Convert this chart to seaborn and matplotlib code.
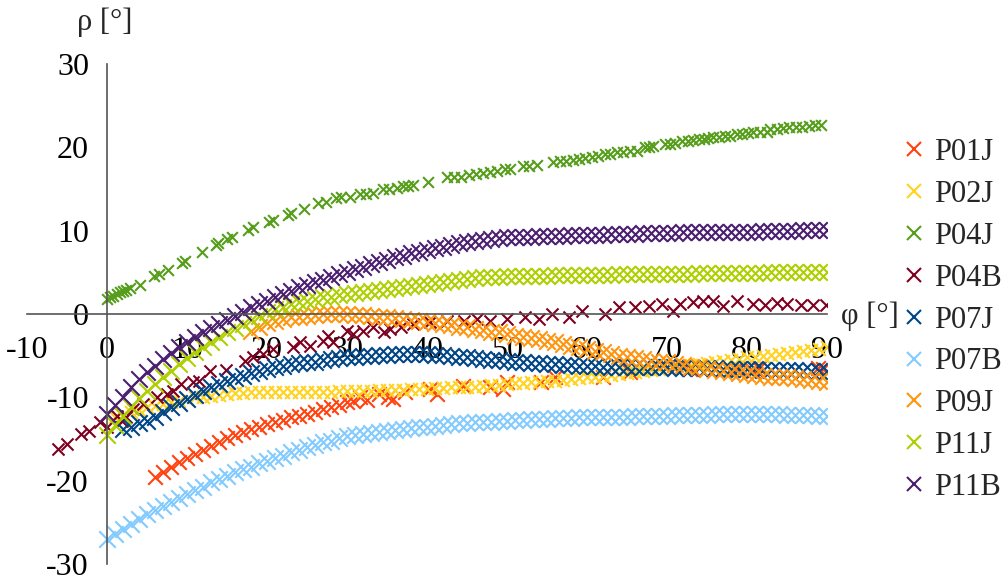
import matplotlib
matplotlib.use("Agg")
import matplotlib.pyplot as plt
from matplotlib.lines import Line2D
import seaborn as sns
import pandas as pd

# ---------------- data ----------------
series_names = ["P01J", "P02J", "P04J", "P04B", "P07J", "P07B", "P09J", "P11J", "P11B"]
series_colors = ["#FF420E", "#FFD320", "#579D1C", "#7E0021", "#004586",
                 "#83CAFF", "#FF950E", "#AECF00", "#4B1F6F"]

# dense series, sampled every degree
P11B_phi = list(range(0, 91))
P11B_rho = [-12.0, -10.9, -9.9, -8.8, -7.8, -6.9, -6.2, -5.4, -4.7, -4.0,
            -3.4, -2.8, -2.2, -1.7, -1.2, -0.7, -0.2, 0.3, 0.8, 1.2,
            1.6, 2.0, 2.4, 2.8, 3.2, 3.5, 3.8, 4.1, 4.5, 4.8,
            5.1, 5.4, 5.7, 6.0, 6.3, 6.5, 6.8, 7.0, 7.3, 7.5,
            7.7, 7.9, 8.1, 8.3, 8.5, 8.7, 8.8, 8.9, 9.0, 9.1,
            9.2, 9.2, 9.3, 9.3, 9.4, 9.4, 9.4, 9.4, 9.5, 9.5,
            9.5, 9.5, 9.5, 9.6, 9.6, 9.6, 9.6, 9.7, 9.7, 9.7,
            9.7, 9.7, 9.8, 9.8, 9.8, 9.8, 9.8, 9.9, 9.9, 9.9,
            9.9, 9.9, 10.0, 10.0, 10.0, 10.0, 10.0, 10.1, 10.1, 10.1, 10.1]

P11J_phi = list(range(0, 91))
P11J_rho = [-14.5, -13.3, -12.2, -11.1, -10.1, -9.2, -8.4, -7.6, -6.8, -6.0,
            -5.3, -4.6, -4.0, -3.4, -2.8, -2.2, -1.7, -1.2, -0.7, -0.2,
            0.3, 0.6, 0.9, 1.2, 1.4, 1.6, 1.8, 2.0, 2.1, 2.3,
            2.4, 2.5, 2.6, 2.8, 2.9, 3.0, 3.1, 3.2, 3.4, 3.5,
            3.6, 3.7, 3.8, 4.0, 4.1, 4.2, 4.3, 4.4, 4.5, 4.5,
            4.6, 4.6, 4.6, 4.6, 4.6, 4.6, 4.7, 4.7, 4.7, 4.7,
            4.7, 4.7, 4.7, 4.7, 4.8, 4.8, 4.8, 4.8, 4.8, 4.8,
            4.8, 4.8, 4.8, 4.8, 4.9, 4.9, 4.9, 4.9, 4.9, 4.9,
            4.9, 4.9, 4.9, 5.0, 5.0, 5.0, 5.0, 5.0, 5.0, 5.0, 5.0]

P09J_phi = list(range(18, 91))
P09J_rho = [-2.0, -1.5, -1.1, -0.8, -0.6, -0.4, -0.3, -0.2, -0.1, 0.0,
            0.0, 0.0, 0.0, -0.1, -0.1, -0.2, -0.3, -0.4, -0.5, -0.6,
            -0.7, -0.8, -1.0, -1.1, -1.2, -1.3, -1.5, -1.6, -1.8, -1.9,
            -2.1, -2.2, -2.4, -2.6, -2.7, -2.9, -3.0, -3.2, -3.4, -3.6,
            -3.8, -4.0, -4.2, -4.4, -4.6, -4.8, -5.0, -5.2, -5.3, -5.4,
            -5.6, -5.7, -5.8, -6.0, -6.1, -6.3, -6.4, -6.6, -6.7, -6.8,
            -6.9, -7.1, -7.2, -7.3, -7.4, -7.5, -7.6, -7.6, -7.7, -7.8,
            -7.9, -8.0, -8.2]

P07J_phi = list(range(2, 91))
P07J_rho = [-13.8, -13.5, -13.1, -12.8, -12.3, -11.8, -11.2, -10.7,
            -10.2, -9.7, -9.2, -8.8, -8.4, -8.0, -7.7, -7.4, -7.1, -6.8,
            -6.6, -6.4, -6.2, -6.0, -5.9, -5.8, -5.7, -5.5, -5.4, -5.3,
            -5.2, -5.1, -5.0, -5.0, -4.9, -4.9, -4.8, -4.8, -4.8, -4.8,
            -4.8, -4.9, -4.9, -5.0, -5.1, -5.2, -5.3, -5.4, -5.5, -5.5,
            -5.6, -5.7, -5.8, -5.9, -5.9, -6.0, -6.0, -6.1, -6.1, -6.2,
            -6.2, -6.2, -6.3, -6.3, -6.3, -6.3, -6.4, -6.4, -6.4, -6.4,
            -6.4, -6.5, -6.5, -6.5, -6.5, -6.5, -6.5, -6.6, -6.6, -6.6,
            -6.6, -6.6, -6.7, -6.7, -6.7, -6.7, -6.7, -6.8, -6.8, -6.8, -6.8]

P07B_phi = list(range(0, 91))
P07B_rho = [-27.0, -26.4, -25.8, -25.2, -24.6, -24.0, -23.5, -23.0, -22.5, -22.1,
            -21.6, -21.1, -20.7, -20.2, -19.8, -19.4, -19.0, -18.6, -18.3, -17.9,
            -17.6, -17.3, -17.0, -16.6, -16.3, -16.0, -15.7, -15.4, -15.2, -14.9,
            -14.6, -14.5, -14.4, -14.3, -14.1, -14.0, -13.9, -13.8, -13.7, -13.6,
            -13.5, -13.4, -13.3, -13.2, -13.1, -13.1, -13.0, -12.9, -12.9, -12.8,
            -12.8, -12.7, -12.7, -12.6, -12.6, -12.6, -12.5, -12.5, -12.5, -12.4,
            -12.4, -12.4, -12.3, -12.3, -12.3, -12.3, -12.2, -12.2, -12.2, -12.2,
            -12.2, -12.1, -12.1, -12.1, -12.1, -12.1, -12.0, -12.0, -12.0, -12.0,
            -12.0, -12.0, -12.0, -12.0, -12.0, -12.1, -12.1, -12.1, -12.1, -12.2, -12.2]

P02J_phi = list(range(1, 91))
P02J_rho = [-12.4, -12.1, -11.8, -11.5, -11.2, -11.0, -10.8, -10.6, -10.4, -10.2,
            -10.0, -9.9, -9.8, -9.7, -9.6, -9.5, -9.5, -9.4, -9.4, -9.3,
            -9.3, -9.3, -9.3, -9.3, -9.3, -9.3, -9.3, -9.3, -9.2, -9.2,
            -9.2, -9.2, -9.2, -9.1, -9.1, -9.1, -9.1, -9.0, -9.0, -9.0,
            -8.9, -8.9, -8.8, -8.8, -8.7, -8.7, -8.6, -8.5, -8.5, -8.4,
            -8.3, -8.3, -8.2, -8.1, -8.0, -8.0, -7.9, -7.8, -7.7, -7.6,
            -7.5, -7.4, -7.3, -7.2, -7.1, -7.0, -6.8, -6.7, -6.6, -6.4,
            -6.3, -6.2, -6.1, -6.0, -5.9, -5.8, -5.6, -5.5, -5.4, -5.2,
            -5.1, -5.0, -4.9, -4.8, -4.7, -4.6, -4.4, -4.3, -4.2, -4.0]

P01J_phi = [6, 7, 8, 9, 10, 11, 12, 13, 14, 15, 16, 17, 18, 19, 20,
            21, 22, 23, 24, 25, 26, 27, 28, 29, 30,
            30.8, 31.6, 32.5, 34.0, 35.1, 35.8, 37.2, 40.4, 41.2, 44.5,
            47.9, 49.5, 50.0, 54.2, 56.0, 62.0, 65.4, 72.9, 78.7, 80.8,
            81.5, 88.9, 89.5]
P01J_rho = [-19.5, -19.0, -18.4, -17.8, -17.3, -16.8, -16.3, -15.8, -15.4, -14.9,
            -14.5, -14.1, -13.8, -13.5, -13.2, -12.9, -12.7, -12.4, -12.2, -12.0,
            -11.7, -11.4, -11.1, -10.9, -10.6,
            -10.4, -10.0, -10.3, -9.6, -10.0, -10.2, -9.4, -9.0, -9.6, -8.6,
            -8.8, -9.0, -8.2, -8.2, -7.6, -7.6, -7.0, -6.6, -6.5, -6.8,
            -6.5, -6.5, -6.6]

# sparse series
P04J_phi = [0.0, 0.4, 0.8, 1.2, 1.6, 2.0, 2.4, 2.9, 4.1, 5.9, 6.5, 7.6, 9.4, 9.8,
            11.9, 13.6, 13.9, 15.0, 15.6, 17.6, 18.2, 20.2, 20.8, 22.6, 23.0,
            24.6, 26.4, 27.4, 28.6, 29.2, 30.4, 31.6, 32.4, 33.3, 34.5, 35.3,
            36.2, 37.0, 37.6, 38.3, 40.1, 42.5, 43.4, 44.3, 45.2, 46.1, 47.0,
            47.9, 48.8, 49.7, 50.4, 52.0, 52.8, 53.7, 55.8, 56.6, 57.4, 58.2,
            59.0, 59.8, 60.6, 61.4, 62.2, 62.9, 63.7, 64.5, 65.4, 66.2, 67.2,
            67.8, 68.3, 69.8, 70.4, 71.0, 71.9, 72.6, 73.3, 74.0, 74.6, 75.1,
            75.8, 76.5, 77.2, 77.9, 78.7, 79.4, 80.1, 80.8, 81.6, 82.5, 82.9,
            83.7, 84.5, 85.3, 86.1, 86.9, 87.7, 88.5, 89.2]
P04J_rho = [1.8, 2.0, 2.2, 2.4, 2.6, 2.8, 2.9, 3.1, 3.5, 4.6, 4.8, 5.3, 6.1, 6.4,
            7.4, 8.3, 8.5, 9.0, 9.3, 10.1, 10.4, 11.0, 11.3, 11.9, 12.1,
            12.6, 13.3, 13.5, 13.9, 14.1, 14.0, 14.4, 14.4, 14.5, 15.0, 15.0,
            15.1, 15.4, 15.4, 15.5, 15.8, 16.4, 16.4, 16.5, 16.7, 16.8, 16.9,
            17.0, 17.2, 17.4, 17.4, 17.8, 17.8, 17.9, 18.2, 18.3, 18.4, 18.5,
            18.6, 18.7, 18.9, 19.0, 19.2, 19.2, 19.5, 19.5, 19.6, 19.6, 20.0,
            20.0, 20.1, 20.4, 20.4, 20.5, 20.8, 20.8, 20.9, 21.0, 21.0, 21.1,
            21.2, 21.2, 21.3, 21.3, 21.6, 21.6, 21.7, 21.8, 21.8, 21.9, 22.2,
            22.2, 22.3, 22.4, 22.4, 22.5, 22.6, 22.7, 22.7]

P04B_phi = [-6.1, -5.0, -3.2, -2.2, -0.9, 0.0, 1.2, 1.9, 2.4, 3.3, 4.5, 6.2, 7.5,
            8.3, 9.3, 10.7, 11.5, 12.9, 14.9, 17.3, 18.3, 19.5, 20.8, 23.3,
            24.1, 25.4, 27.0, 27.6, 28.2, 30.0, 30.8, 32.0, 33.3, 34.6, 35.4,
            36.7, 38.3, 40.4, 42.5, 44.6, 46.3, 47.9, 50.0, 52.3, 54.0, 55.6,
            57.7, 59.4, 62.3, 64.0, 66.0, 67.7, 69.4, 70.8, 71.6, 73.3, 74.5,
            75.8, 77.0, 78.8, 80.8, 82.3, 83.8, 85.0, 86.7, 88.3, 89.9]
P04B_rho = [-16.2, -15.6, -14.4, -14.0, -13.0, -13.6, -12.2, -12.8, -12.4, -11.4,
            -10.8, -10.0, -9.6, -9.2, -8.4, -8.2, -8.0, -6.8, -6.7, -5.6,
            -5.2, -4.8, -4.2, -4.0, -3.4, -3.8, -3.2, -2.6, -3.4, -2.0,
            -2.4, -2.0, -1.6, -2.2, -1.8, -1.6, -1.2, -1.0, -0.8, -0.8,
            -0.6, -0.8, -0.6, -0.4, -0.6, 0.0, -0.4, 0.4, 0.0, 0.8,
            0.8, 1.0, 1.2, 0.4, 1.2, 1.4, 1.6, 1.6, 1.0, 1.6,
            1.2, 1.1, 1.3, 1.2, 1.1, 1.1, 1.1]

x_ticks = [-10, 0, 10, 20, 30, 40, 50, 60, 70, 80, 90]
y_ticks = [-30, -20, -10, 0, 10, 20, 30]
x_label = "φ [°]"
y_label = "ρ [°]"

# ---------------- build tables ----------------
phis = [P01J_phi, P02J_phi, P04J_phi, P04B_phi, P07J_phi, P07B_phi, P09J_phi, P11J_phi, P11B_phi]
rhos = [P01J_rho, P02J_rho, P04J_rho, P04B_rho, P07J_rho, P07B_rho, P09J_rho, P11J_rho, P11B_rho]
marker_area = {"P01J": 110, "P02J": 85, "P04J": 60, "P04B": 75, "P07J": 140,
               "P07B": 140, "P09J": 140, "P11J": 140, "P11B": 140}

# ---------------- style ----------------
sns.set_theme(style="white")
plt.rcParams["font.family"] = ["Liberation Serif", "DejaVu Serif"]
plt.rcParams["axes.unicode_minus"] = False

fig = plt.figure(figsize=(10.08, 5.81), dpi=100)
ax = fig.add_axes([27 / 1008, 1 - 564 / 581, 800 / 1008, 500 / 581])

for name, color, ph, rh in zip(series_names, series_colors, phis, rhos):
    d = pd.DataFrame({"phi": ph, "rho": rh})
    sns.scatterplot(data=d, x="phi", y="rho", color=color, marker="x",
                    s=marker_area[name], linewidth=1.5, legend=False, ax=ax)

ax.set_xlim(-10, 90)
ax.set_ylim(-30, 30)
ax.set_xticks(x_ticks)
ax.set_yticks(y_ticks)
ax.set_xlabel("")
ax.set_ylabel("")

for side in ["top", "right"]:
    ax.spines[side].set_visible(False)
for side in ["left", "bottom"]:
    ax.spines[side].set_color("#555555")
    ax.spines[side].set_linewidth(1.2)
ax.spines["left"].set_position(("data", 0))
ax.spines["bottom"].set_position(("data", 0))
ax.patch.set_alpha(0)

ax.tick_params(axis="both", which="major", direction="out", length=8, width=1.2,
               color="#333333", labelsize=23, labelcolor="black")
ax.tick_params(axis="x", pad=8)
ax.tick_params(axis="y", pad=5)

fig.text(105 / 1008, 1 - 22 / 581, y_label, fontsize=22, ha="center", va="center")
fig.text(870 / 1008, 1 - 316 / 581, x_label, fontsize=22, ha="center", va="center")

handles = [Line2D([], [], linestyle="none", marker="x", markersize=10, markeredgewidth=1.5,
                  color=c) for c in series_colors]
fig.legend(handles, series_names, loc="center left", bbox_to_anchor=(900 / 1008, 1 - 320 / 581),
           frameon=False, fontsize=22, handlelength=0.9, handletextpad=0.2,
           labelspacing=0.42, borderaxespad=0, borderpad=0)

fig.savefig("out.png", dpi=100)
